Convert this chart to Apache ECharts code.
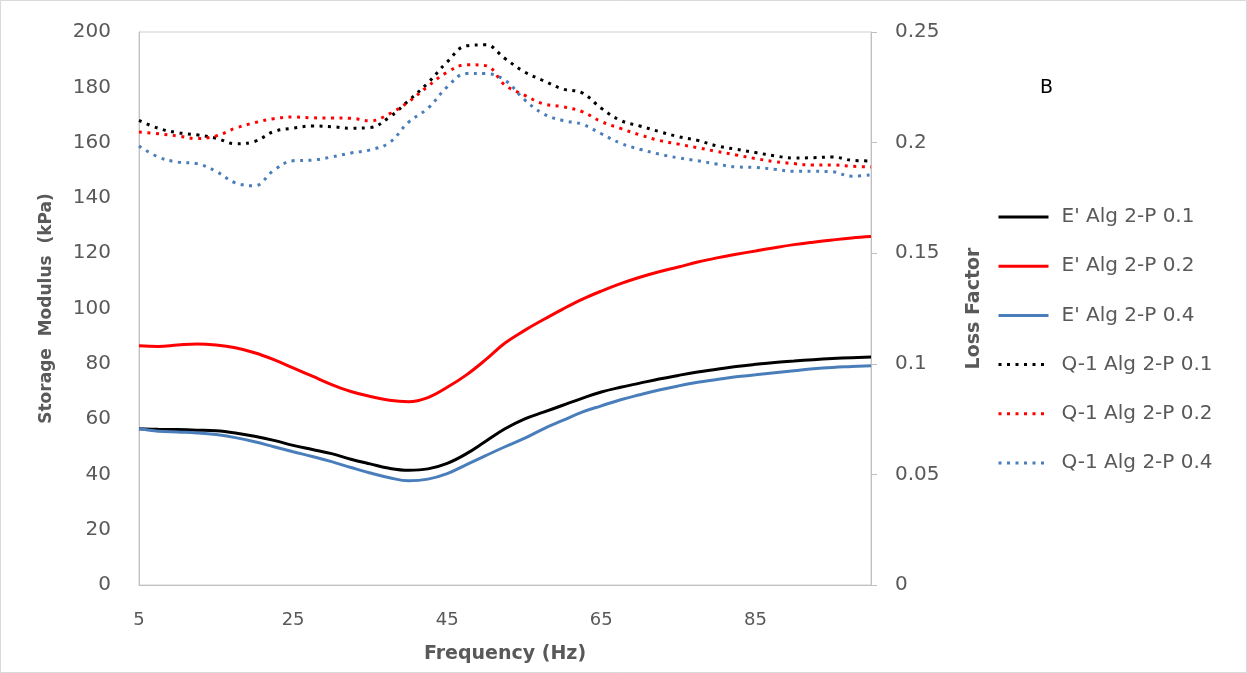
<!DOCTYPE html>
<html>
<head>
<meta charset="utf-8">
<script src="https://cdn.jsdelivr.net/npm/echarts@6/dist/echarts.min.js"></script>
<style>
  html, body { margin: 0; padding: 0; background: #fff; }
  #chart { width: 1247px; height: 673px; }
</style>
</head>
<body>
<div id="chart"></div>
<script>
// Frequency grid (Hz)
const freq = [5, 7.5, 10, 12.5, 15, 17.5, 20, 22.5, 25, 27.5, 30, 32.5, 35, 37.5, 40, 42.5, 45, 47.5, 50,
  52.5, 55, 57.5, 60, 62.5, 65, 67.5, 70, 72.5, 75, 77.5, 80, 82.5, 85, 87.5, 90, 92.5, 95, 97.5, 100];

// Storage modulus E' (kPa)
const eP01 = [56.5, 56.3, 56.2, 56.0, 55.8, 55.0, 53.8, 52.3, 50.5, 49.0, 47.5, 45.5, 43.8, 42.2, 41.5, 42.0, 44.0, 47.5, 52.0,
  56.5, 60.0, 62.5, 65.0, 67.5, 69.8, 71.5, 73.0, 74.5, 75.8, 77.0, 78.0, 79.0, 79.8, 80.5, 81.0, 81.5, 81.9, 82.2, 82.5];
const eP02 = [86.5, 86.3, 86.8, 87.2, 86.8, 85.8, 84.0, 81.5, 78.5, 75.5, 72.5, 70.0, 68.2, 66.8, 66.3, 67.8, 71.5, 76.0, 81.5,
  87.5, 92.0, 96.0, 99.8, 103.3, 106.3, 109.0, 111.3, 113.3, 115.0, 116.8, 118.3, 119.6, 120.8, 122.0, 123.1, 124.0, 124.8, 125.5, 126.0];
const eP04 = [56.5, 55.6, 55.3, 55.0, 54.4, 53.3, 51.8, 50.0, 48.2, 46.5, 44.6, 42.5, 40.5, 38.8, 37.7, 38.3, 40.3, 43.5, 46.8,
  50.0, 53.0, 56.5, 59.5, 62.5, 64.8, 67.0, 68.8, 70.5, 72.0, 73.3, 74.3, 75.3, 76.0, 76.8, 77.5, 78.2, 78.7, 79.0, 79.3];

// Loss factor Q-1
const qP01 = [0.2100, 0.2065, 0.2045, 0.2035, 0.2020, 0.1995, 0.2005, 0.2050, 0.2065, 0.2075, 0.2072, 0.2065, 0.2068, 0.2115, 0.2190, 0.2270, 0.2365, 0.2438, 0.2442,
  0.2380, 0.2320, 0.2280, 0.2242, 0.2225, 0.2155, 0.2100, 0.2075, 0.2050, 0.2027, 0.2010, 0.1985, 0.1970, 0.1955, 0.1940, 0.1930, 0.1932, 0.1935, 0.1920, 0.1917];
const qP02 = [0.2048, 0.2040, 0.2030, 0.2018, 0.2030, 0.2065, 0.2090, 0.2108, 0.2116, 0.2112, 0.2111, 0.2110, 0.2098, 0.2130, 0.2185, 0.2255, 0.2318, 0.2352, 0.2348,
  0.2260, 0.2215, 0.2175, 0.2162, 0.2140, 0.2095, 0.2064, 0.2035, 0.2010, 0.1993, 0.1977, 0.1960, 0.1944, 0.1928, 0.1914, 0.1905, 0.1899, 0.1899, 0.1893, 0.1890];
const qP04 = [0.1985, 0.1935, 0.1912, 0.1905, 0.1870, 0.1818, 0.1805, 0.1875, 0.1918, 0.1921, 0.1935, 0.1953, 0.1967, 0.2000, 0.2093, 0.2155, 0.2252, 0.2312, 0.2312,
  0.2282, 0.2195, 0.2130, 0.2100, 0.2083, 0.2040, 0.1997, 0.1970, 0.1948, 0.1931, 0.1918, 0.1903, 0.1890, 0.1888, 0.1879, 0.1870, 0.1870, 0.1868, 0.1848, 0.1854];

const seriesNames = ["E' Alg 2-P 0.1", "E' Alg 2-P 0.2", "E' Alg 2-P 0.4",
  "Q-1 Alg 2-P 0.1", "Q-1 Alg 2-P 0.2", "Q-1 Alg 2-P 0.4"];

const BLACK = '#000000', RED = '#ff0000', BLUE = '#4a7ebb';
const GREY_TEXT = '#595959', AXIS_GREY = '#bfbfbf';
const FONT = 'DejaVu Sans';

const pairs = ys => freq.map((f, i) => [f, ys[i]]);

function solid(name, ys, color) {
  return {
    name, type: 'line', yAxisIndex: 0, data: pairs(ys), smooth: 0.4,
    symbol: 'none', color,
    lineStyle: { color, width: 3, type: 'solid' }
  };
}
function dotted(name, ys, color) {
  return {
    name, type: 'line', yAxisIndex: 1, data: pairs(ys), smooth: 0.4,
    symbol: 'none', color,
    lineStyle: { color, width: 3, type: [3, 5.5] }
  };
}

const titleStyle = size => ({ color: GREY_TEXT, fontSize: size, fontWeight: 'bold', fontFamily: FONT });

const chart = echarts.init(document.getElementById('chart'), null, { renderer: 'canvas' });
chart.setOption({
  backgroundColor: '#ffffff',
  animation: false,
  textStyle: { fontFamily: FONT },
  grid: { left: 139, right: 376, top: 32, bottom: 88, show: true, borderColor: '#d0d0d0', borderWidth: 1 },
  legend: {
    orient: 'vertical', left: 997, top: 207, padding: 0,
    itemWidth: 50, itemHeight: 20, itemGap: 29.2,
    data: seriesNames,
    itemStyle: { color: 'rgba(0,0,0,0)', borderWidth: 0, opacity: 0 },
    lineStyle: { width: 3 },
    textStyle: { color: GREY_TEXT, fontSize: 20, fontFamily: FONT, padding: [0, 0, 0, 8] }
  },
  xAxis: {
    type: 'value', min: 5, max: 100, interval: 20,
    name: 'Frequency (Hz)', nameLocation: 'middle', nameGap: 60,
    nameTextStyle: titleStyle(19),
    axisLine: { show: true, lineStyle: { color: AXIS_GREY } },
    axisTick: { show: false },
    splitLine: { show: false },
    axisLabel: {
      color: GREY_TEXT, fontSize: 18, margin: 26,
      formatter: v => ((v - 5) % 20 === 0 ? String(v) : '')
    }
  },
  yAxis: [
    {
      type: 'value', min: 0, max: 200, interval: 20, position: 'left',
      name: 'Storage  Modulus  (kPa)', nameLocation: 'middle', nameGap: 84,
      nameTextStyle: titleStyle(17),
      axisLine: { show: true, lineStyle: { color: AXIS_GREY } },
      axisTick: { show: false },
      splitLine: { show: false },
      axisLabel: { color: GREY_TEXT, fontSize: 20, margin: 28 }
    },
    {
      type: 'value', min: 0, max: 0.25, interval: 0.05, position: 'right',
      name: 'Loss Factor', nameLocation: 'middle', nameGap: 94,
      nameTextStyle: titleStyle(19),
      axisLine: { show: true, lineStyle: { color: AXIS_GREY } },
      axisTick: { show: true, inside: false, length: 6, lineStyle: { color: AXIS_GREY } },
      splitLine: { show: false },
      axisLabel: { color: GREY_TEXT, fontSize: 20, margin: 24 }
    }
  ],
  graphic: [
    { type: 'rect', shape: { x: 0.5, y: 0.5, width: 1246, height: 672 }, style: { fill: 'none', stroke: '#d9d9d9', lineWidth: 1 }, silent: true },
    { type: 'text', left: 1040, top: 79, style: { text: 'B', fill: '#000', fontSize: 19, fontFamily: FONT } }
  ],
  series: [
    solid(seriesNames[0], eP01, BLACK),
    solid(seriesNames[1], eP02, RED),
    solid(seriesNames[2], eP04, BLUE),
    dotted(seriesNames[3], qP01, BLACK),
    dotted(seriesNames[4], qP02, RED),
    dotted(seriesNames[5], qP04, BLUE)
  ]
});
</script>
</body>
</html>
